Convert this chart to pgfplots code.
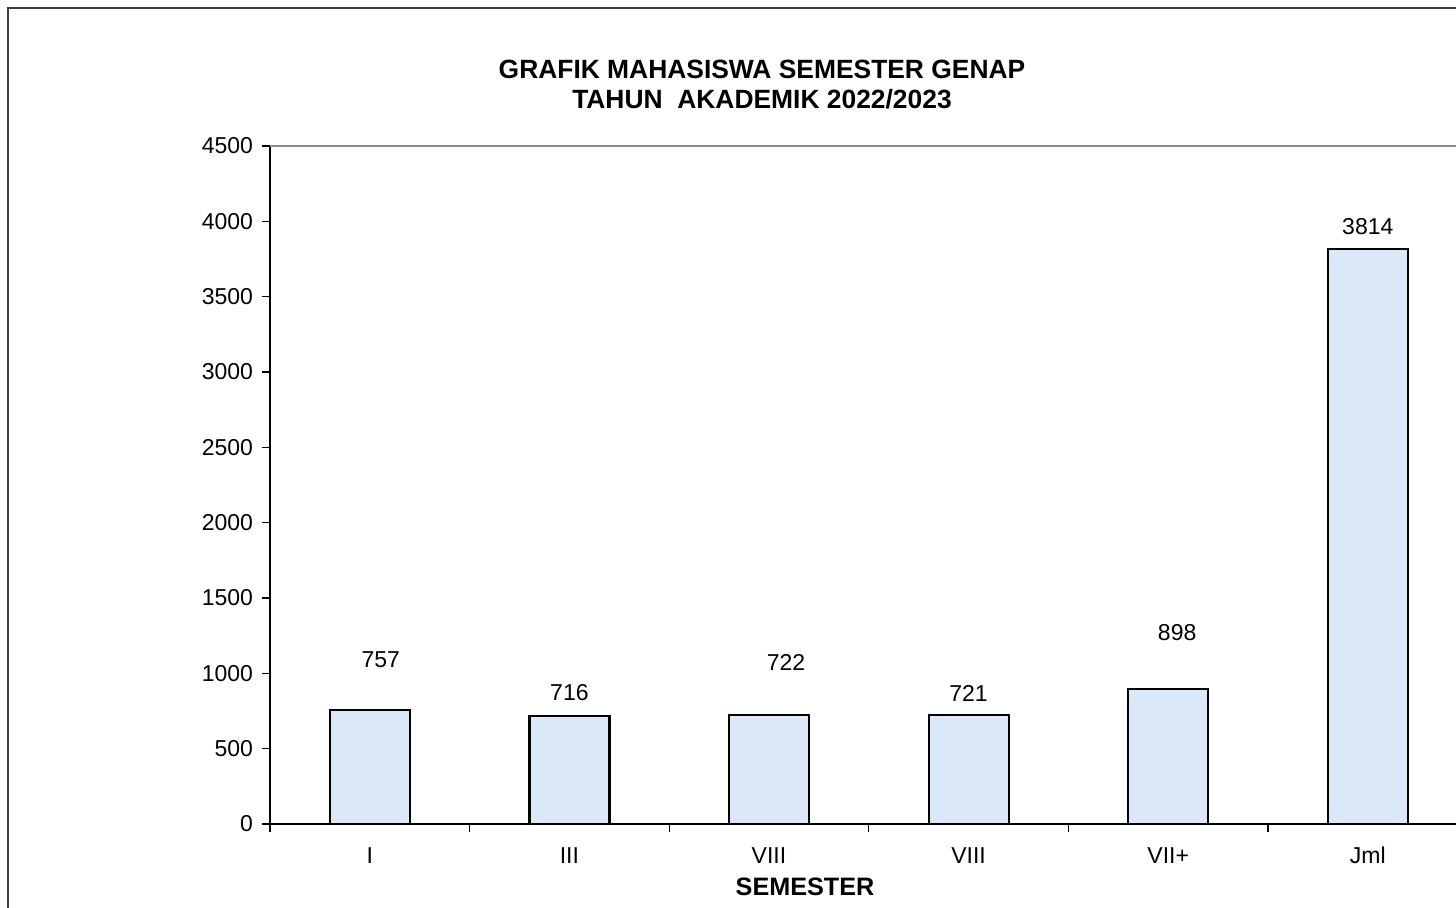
\documentclass[border=0pt]{standalone}
\usepackage{pgfplots}
\pgfplotsset{compat=1.18}
\usepackage{fontspec}
\setmainfont{Liberation Sans}
\definecolor{barblue}{RGB}{219,232,247}
\begin{document}
\begin{tikzpicture}
\useasboundingbox (0,0) rectangle (728pt,454pt);
\clip (0,0) rectangle (728pt,454pt);
\draw[line width=0.7pt, black!75] (4pt,-20pt) rectangle (760pt,450pt);
\node[font=\bfseries\fontsize{13.2}{15}\selectfont, align=center] at (381pt,411.5pt) {GRAFIK MAHASISWA SEMESTER GENAP\\TAHUN\ \ AKADEMIK 2022/2023};
\node[font=\bfseries\fontsize{12.6}{14}\selectfont] at (402.5pt,10.5pt) {SEMESTER};
\begin{axis}[
  at={(135pt,42pt)}, anchor=south west,
  scale only axis, width=598.8pt, height=339pt,
  xmin=-0.5, xmax=5.5, ymin=0, ymax=4500,
  axis x line*=bottom, axis y line*=left,
  axis line style={line width=0.7pt, black},
  /pgf/number format/.cd, 1000 sep={}, assume math mode=true, /pgfplots/.cd,
  ytick={0,500,...,4500},
  xtick={0,...,5},
  xticklabels={I,III,VIII,VIII,VII+,Jml},
  tick align=outside,
  major tick length=4pt,
  tick style={line width=0.6pt, black},
  xtick style={draw=none},
  extra x ticks={-0.5,0.5,1.5,2.5,3.5,4.5,5.5},
  extra x tick labels={},
  extra x tick style={xtick style={draw=black, line width=0.6pt}},
  ticklabel style={font=\fontsize{11.5}{13}\selectfont},
  xticklabel style={yshift=-3.5pt, text height=8.6pt, text depth=2pt},
  yticklabel style={xshift=-1pt},
  clip=false,
]
\draw[line width=0.7pt, black!45] (rel axis cs:0,1) -- (rel axis cs:1,1) -- (rel axis cs:1,0);
\addplot[ybar, bar width=40pt, fill=barblue, draw=black, line width=1.1pt]
  coordinates {(0,757) (1,716) (2,722) (3,721) (4,898) (5,3814)};
\addplot[draw=none, mark=none, nodes near coords, point meta=explicit symbolic,
  nodes near coords style={anchor=center, font=\fontsize{11.5}{13}\selectfont}]
  coordinates {(0.055,1088) [757] (1,869) [716] (2.085,1075) [722] (3,869) [721] (4.045,1268) [898] (5,3962) [3814]};
\end{axis}
\end{tikzpicture}
\end{document}
